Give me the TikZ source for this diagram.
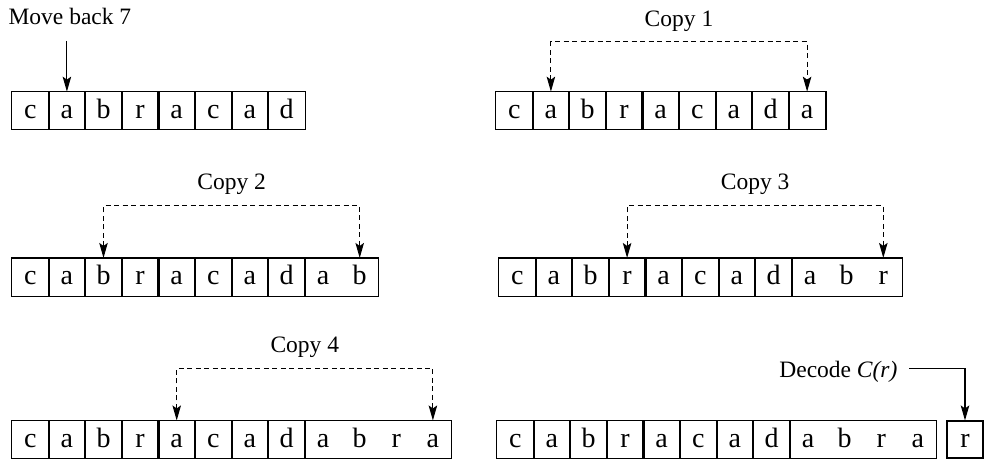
\documentclass[tikz,border=0pt]{standalone}
\usepackage{fontspec}
\setmainfont{Liberation Serif}
\usetikzlibrary{arrows.meta,calc}

\tikzset{
	cell/.style={minimum width=36.6pt, minimum height=37pt, inner sep=0pt, text height=15.5pt, text depth=0pt, font=\fontsize{28}{28}\selectfont},
	lbl/.style={inner sep=0pt, font=\fontsize{23.5}{24}\selectfont},
	tip/.style={-{Stealth[length=15pt,width=8.5pt,inset=3pt]}},
	copyline/.style={{Stealth[length=15pt,width=8.5pt,inset=3pt]}-{Stealth[length=15pt,width=8.5pt,inset=3pt]}, dash pattern=on 5pt off 3.5pt},
}

% #1 name, #2 left x, #3 centre y, #4 letters, #5 boxed cells
\newcommand\letterrow[5]{
	\foreach \ch [count=\i] in {#4}
		\node[cell] (#1\i) at ({#2+(\i-0.5)*36.6},#3) {\ch};
	\foreach \i in {1,...,#5}
		\draw (#1\i.north west) rectangle (#1\i.south east);
}

\begin{document}
\begin{tikzpicture}[x=1pt, y=-1pt, line width=1.1pt]
	\useasboundingbox (0,0) rectangle (984,462);

	% move back 7
	\letterrow{ra}{12}{110.7}{c,a,b,r,a,c,a,d}{8}
	\node[lbl, anchor=base west] (back) at (8,25) {Move back 7};
	\draw[tip] ($(back.south -| ra2.north)+(0,15)$) -- (ra2.north);

	% copy 1
	\letterrow{rb}{496}{110.7}{c,a,b,r,a,c,a,d,a}{8}
	\draw (rb9.north west) rectangle (rb9.south east);
	\draw[copyline] (rb2.north) -- ++(0,-50) -| node[pos=0.25, lbl, anchor=base, yshift=15pt] {Copy 1} (rb9.north);

	% copy 2
	\letterrow{rc}{12}{277}{c,a,b,r,a,c,a,d,a,b}{8}
	\draw (rc9.north west) rectangle (rc10.south east);
	\draw[copyline] (rc3.north) -- ++(0,-52) -| node[pos=0.25, lbl, anchor=base, yshift=16pt] {Copy 2} (rc10.north);

	% copy 3
	\letterrow{rd}{499}{277}{c,a,b,r,a,c,a,d,a,b,r}{8}
	\draw (rd9.north west) rectangle (rd11.south east);
	\draw[copyline] (rd4.north) -- ++(0,-52) -| node[pos=0.25, lbl, anchor=base, yshift=16pt] {Copy 3} (rd11.north);

	% copy 4
	\letterrow{re}{12}{439.5}{c,a,b,r,a,c,a,d,a,b,r,a}{8}
	\draw (re9.north west) rectangle (re12.south east);
	\draw[copyline] (re5.north) -- ++(0,-52) -| node[pos=0.25, lbl, anchor=base, yshift=16pt] {Copy 4} (re12.north);

	% decode the next symbol
	\letterrow{rf}{497}{439.5}{c,a,b,r,a,c,a,d,a,b,r,a}{8}
	\draw (rf9.north west) rectangle (rf12.south east);
	\node[cell, draw, minimum width=36pt] (rr) at (965,439.5) {r};
	\node[lbl, anchor=base east] (dec) at (898,377) {Decode \textit{C(r)}};
	\draw[tip] ([xshift=11pt, yshift=3pt]dec.east) -| (rr.north);
\end{tikzpicture}
\end{document}
